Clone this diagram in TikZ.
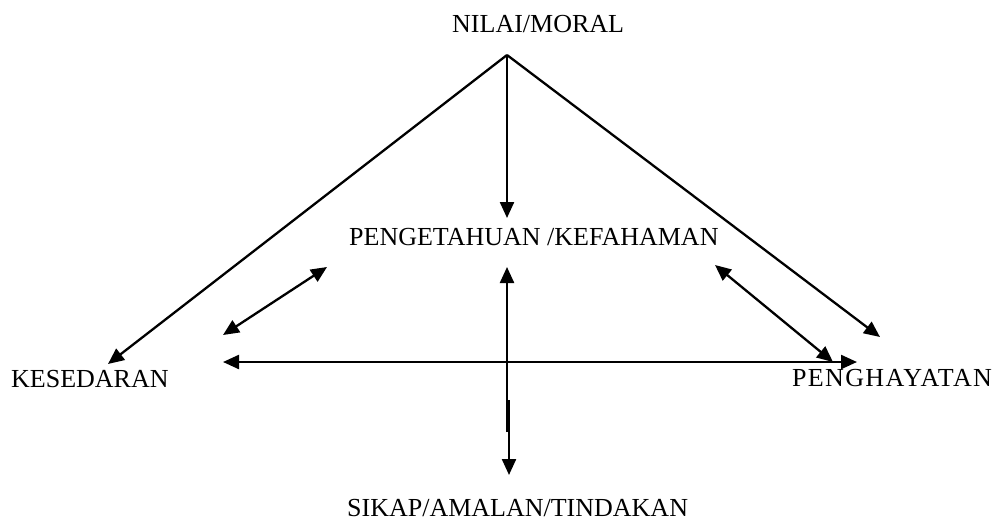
\documentclass[tikz,border=0pt]{standalone}
\usepackage{fontspec}
\setmainfont{Liberation Serif}
\usetikzlibrary{arrows.meta}
\begin{document}
\begin{tikzpicture}[x=1pt,y=-1pt,
  lbl/.style={inner sep=0pt,anchor=base west,font=\fontsize{26}{30}\selectfont},
  conn/.style={line width=2.3pt,-{Triangle[length=16pt,width=14pt]}},
  dconn/.style={line width=2.3pt,{Triangle[length=16pt,width=14pt]}-{Triangle[length=16pt,width=14pt]}}]
\useasboundingbox (0,0) rectangle (997,520);
% labels
\node[lbl] (nilai) at (452,32) {NILAI/MORAL};
\node[lbl] (peng) at (349,245) {PENGETAHUAN /KEFAHAMAN};
\node[lbl] (kes) at (11,387) {KESEDARAN};
\node[lbl] (hay) at (792,386) {\addfontfeature{LetterSpace=5.2}PENGHAYATAN};
\node[lbl] (sikap) at (347,516) {SIKAP/AMALAN/TINDAKAN};
% endpoints
\coordinate (apex) at (507,55);
\coordinate (kesTip) at (108,364);
\coordinate (pengTop) at (507,218);
\coordinate (hayTip) at (880,337);
\coordinate (lA) at (223,335);
\coordinate (lB) at (327,267);
\coordinate (rA) at (715,265);
\coordinate (rB) at (833,362);
\coordinate (hL) at (223,362);
\coordinate (hR) at (857,362);
\coordinate (vTop) at (507,267);
\coordinate (vMid) at (507,432);
\coordinate (vMid2) at (509,400);
\coordinate (vBot) at (509,475);
% connectors
\draw[conn] (apex) -- (kesTip);
\draw[conn] (apex) -- (pengTop);
\draw[conn] (apex) -- (hayTip);
\draw[dconn] (lA) -- (lB);
\draw[dconn] (rA) -- (rB);
\draw[dconn] (hL) -- (hR);
\draw[conn] (vMid) -- (vTop);
\draw[conn] (vMid2) -- (vBot);
\end{tikzpicture}
\end{document}
